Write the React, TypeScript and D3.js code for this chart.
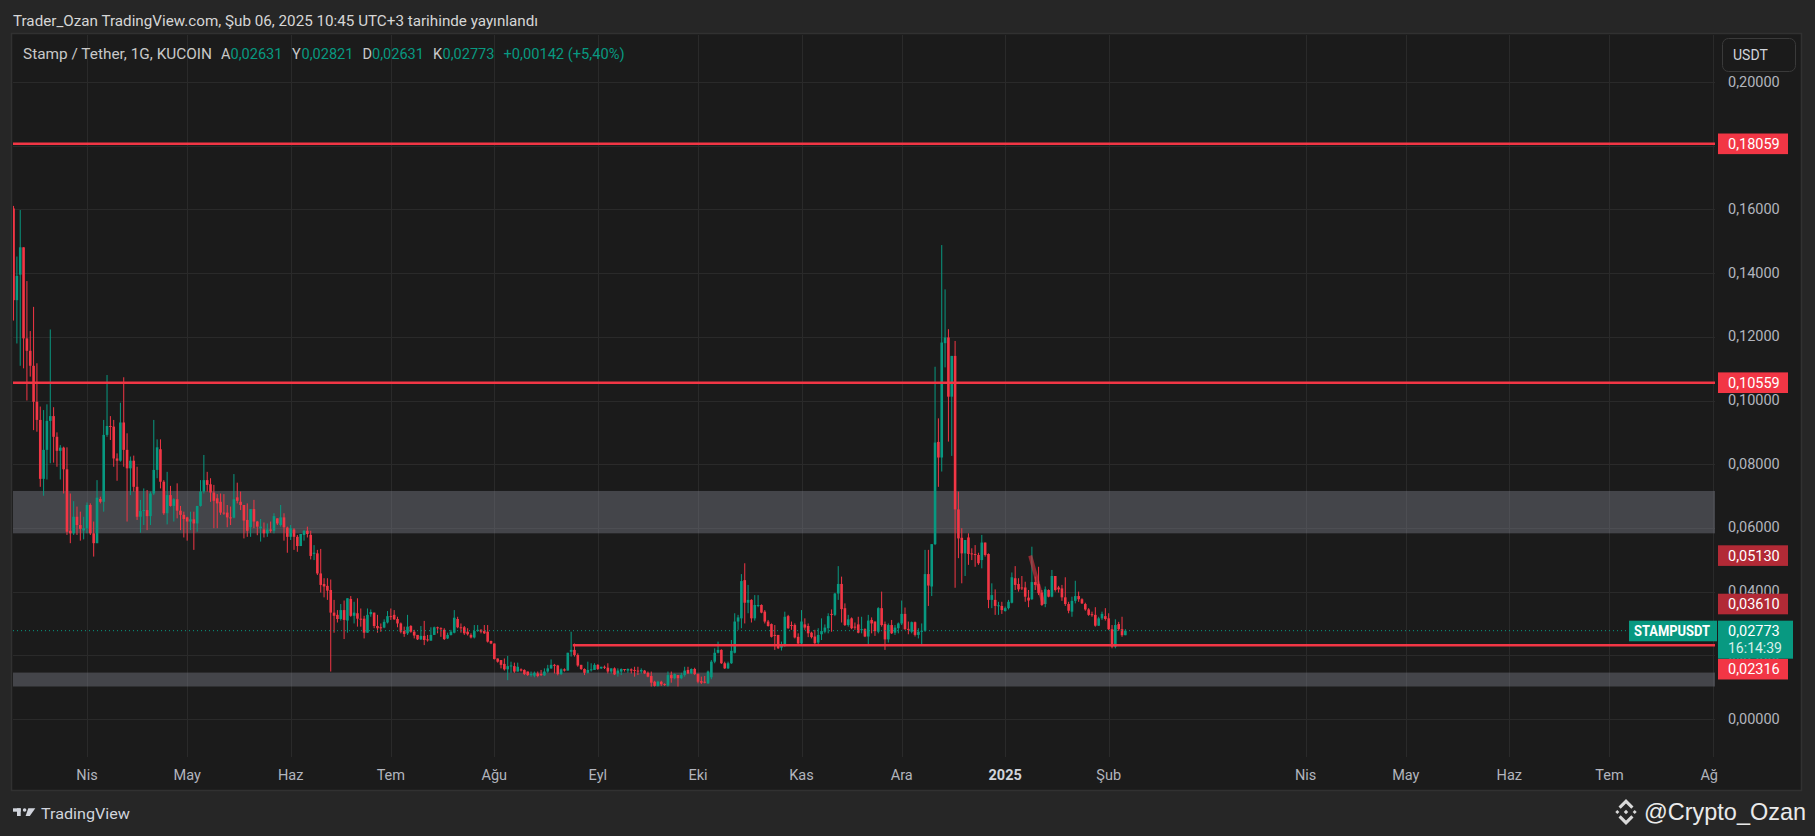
import * as d3 from 'd3';

// daily bars STAMP/USDT (KuCoin): [open, high, low, close], first bar 2024-03-10
const candles: [number, number, number, number][] = [
  [0.1603,0.1611,0.1251,0.1315],[0.1315,0.1452,0.1179,0.1391],[0.1395,0.1598,0.1109,0.1481],[0.1481,0.1481,0.1101,0.1195],
  [0.1195,0.1375,0.1000,0.1156],[0.1156,0.1218,0.1075,0.1109],[0.1109,0.1294,0.0907,0.0996],[0.0996,0.1117,0.0902,0.0939],
  [0.0939,0.0981,0.0729,0.0754],[0.0754,0.0970,0.0701,0.0845],[0.0845,0.0988,0.0752,0.0936],[0.0936,0.1223,0.0803,0.0951],
  [0.0951,0.0979,0.0805,0.0886],[0.0886,0.0900,0.0792,0.0842],[0.0842,0.0860,0.0752,0.0852],[0.0852,0.0855,0.0708,0.0784],
  [0.0784,0.0853,0.0578,0.0588],[0.0591,0.0708,0.0552,0.0583],[0.0583,0.0684,0.0578,0.0635],[0.0635,0.0667,0.0578,0.0609],
  [0.0609,0.0651,0.0560,0.0597],[0.0592,0.0635,0.0564,0.0599],[0.0599,0.0680,0.0583,0.0672],[0.0672,0.0677,0.0578,0.0583],
  [0.0583,0.0620,0.0510,0.0552],[0.0552,0.0750,0.0552,0.0695],[0.0691,0.0698,0.0677,0.0682],[0.0682,0.0939,0.0651,0.0892],
  [0.0892,0.1080,0.0886,0.0920],[0.0920,0.0951,0.0876,0.0918],[0.0918,0.0939,0.0792,0.0818],[0.0818,0.0834,0.0748,0.0811],
  [0.0811,0.0993,0.0808,0.0931],[0.0931,0.1073,0.0792,0.0845],[0.0845,0.0897,0.0620,0.0787],[0.0787,0.0824,0.0703,0.0811],
  [0.0811,0.0827,0.0714,0.0729],[0.0729,0.0792,0.0625,0.0635],[0.0635,0.0688,0.0585,0.0653],[0.0653,0.0724,0.0609,0.0656],
  [0.0656,0.0719,0.0593,0.0637],[0.0637,0.0714,0.0609,0.0708],[0.0708,0.0939,0.0703,0.0782],[0.0782,0.0878,0.0756,0.0853],
  [0.0847,0.0878,0.0724,0.0745],[0.0745,0.0750,0.0641,0.0646],[0.0646,0.0776,0.0611,0.0703],[0.0703,0.0732,0.0667,0.0669],
  [0.0669,0.0693,0.0620,0.0690],[0.0690,0.0740,0.0630,0.0654],[0.0654,0.0669,0.0593,0.0641],[0.0641,0.0651,0.0570,0.0628],
  [0.0633,0.0635,0.0560,0.0620],[0.0620,0.0651,0.0593,0.0627],[0.0627,0.0651,0.0531,0.0614],[0.0614,0.0669,0.0588,0.0669],
  [0.0669,0.0750,0.0667,0.0714],[0.0714,0.0829,0.0708,0.0750],[0.0750,0.0776,0.0714,0.0735],[0.0737,0.0756,0.0682,0.0711],
  [0.0711,0.0735,0.0599,0.0685],[0.0693,0.0706,0.0599,0.0677],[0.0682,0.0708,0.0641,0.0648],[0.0648,0.0706,0.0641,0.0646],
  [0.0648,0.0672,0.0602,0.0633],[0.0633,0.0667,0.0609,0.0632],[0.0632,0.0769,0.0630,0.0690],[0.0696,0.0742,0.0677,0.0685],
  [0.0682,0.0714,0.0656,0.0672],[0.0672,0.0672,0.0567,0.0623],[0.0625,0.0677,0.0572,0.0591],[0.0602,0.0659,0.0572,0.0659],
  [0.0659,0.0688,0.0599,0.0620],[0.0620,0.0622,0.0577,0.0604],[0.0599,0.0628,0.0557,0.0604],[0.0595,0.0617,0.0570,0.0583],
  [0.0583,0.0614,0.0572,0.0595],[0.0595,0.0620,0.0585,0.0591],[0.0591,0.0646,0.0583,0.0637],[0.0630,0.0630,0.0609,0.0614],
  [0.0609,0.0672,0.0604,0.0633],[0.0633,0.0646,0.0560,0.0602],[0.0601,0.0604,0.0522,0.0572],[0.0572,0.0609,0.0562,0.0599],
  [0.0595,0.0599,0.0531,0.0572],[0.0572,0.0578,0.0525,0.0543],[0.0543,0.0581,0.0543,0.0581],[0.0578,0.0593,0.0560,0.0591],
  [0.0591,0.0604,0.0570,0.0581],[0.0578,0.0591,0.0501,0.0512],[0.0520,0.0546,0.0499,0.0522],[0.0520,0.0531,0.0452,0.0457],
  [0.0457,0.0534,0.0397,0.0421],[0.0424,0.0442,0.0382,0.0416],[0.0418,0.0442,0.0374,0.0403],[0.0405,0.0438,0.0149,0.0334],
  [0.0334,0.0374,0.0271,0.0324],[0.0327,0.0342,0.0303,0.0314],[0.0314,0.0361,0.0309,0.0342],[0.0342,0.0372,0.0251,0.0311],
  [0.0309,0.0379,0.0271,0.0379],[0.0377,0.0386,0.0321,0.0324],[0.0324,0.0368,0.0300,0.0334],[0.0332,0.0379,0.0290,0.0315],
  [0.0315,0.0347,0.0290,0.0313],[0.0315,0.0324,0.0253,0.0271],[0.0271,0.0347,0.0271,0.0327],[0.0329,0.0344,0.0321,0.0336],
  [0.0334,0.0334,0.0285,0.0292],[0.0292,0.0327,0.0271,0.0285],[0.0288,0.0300,0.0274,0.0286],[0.0287,0.0313,0.0285,0.0305],
  [0.0303,0.0339,0.0300,0.0323],[0.0323,0.0347,0.0311,0.0321],[0.0327,0.0342,0.0311,0.0313],[0.0314,0.0321,0.0288,0.0300],
  [0.0300,0.0303,0.0269,0.0274],[0.0276,0.0290,0.0258,0.0267],[0.0269,0.0327,0.0264,0.0290],[0.0292,0.0295,0.0271,0.0274],
  [0.0274,0.0280,0.0253,0.0262],[0.0264,0.0264,0.0248,0.0250],[0.0250,0.0292,0.0248,0.0261],[0.0261,0.0308,0.0232,0.0248],
  [0.0250,0.0264,0.0243,0.0247],[0.0246,0.0288,0.0246,0.0264],[0.0264,0.0290,0.0264,0.0288],[0.0288,0.0290,0.0269,0.0285],
  [0.0285,0.0288,0.0258,0.0283],[0.0280,0.0285,0.0248,0.0251],[0.0253,0.0271,0.0251,0.0264],[0.0264,0.0280,0.0262,0.0274],
  [0.0271,0.0342,0.0269,0.0318],[0.0314,0.0321,0.0285,0.0288],[0.0288,0.0300,0.0271,0.0287],[0.0288,0.0292,0.0264,0.0269],
  [0.0274,0.0285,0.0262,0.0266],[0.0264,0.0269,0.0253,0.0256],[0.0256,0.0295,0.0253,0.0276],[0.0276,0.0295,0.0274,0.0280],
  [0.0280,0.0282,0.0269,0.0274],[0.0276,0.0295,0.0267,0.0269],[0.0274,0.0295,0.0240,0.0243],[0.0245,0.0246,0.0235,0.0237],
  [0.0237,0.0237,0.0187,0.0188],[0.0190,0.0190,0.0177,0.0180],[0.0185,0.0185,0.0159,0.0170],[0.0173,0.0190,0.0152,0.0156],
  [0.0156,0.0198,0.0122,0.0166],[0.0166,0.0180,0.0145,0.0168],[0.0166,0.0177,0.0145,0.0149],[0.0149,0.0177,0.0149,0.0164],
  [0.0156,0.0159,0.0149,0.0152],[0.0154,0.0156,0.0138,0.0141],[0.0149,0.0149,0.0135,0.0138],[0.0138,0.0149,0.0133,0.0141],
  [0.0136,0.0149,0.0131,0.0145],[0.0143,0.0149,0.0131,0.0135],[0.0141,0.0154,0.0135,0.0138],[0.0137,0.0159,0.0135,0.0149],
  [0.0149,0.0170,0.0145,0.0159],[0.0159,0.0187,0.0157,0.0170],[0.0170,0.0173,0.0143,0.0168],[0.0168,0.0170,0.0137,0.0141],
  [0.0141,0.0159,0.0138,0.0156],[0.0156,0.0159,0.0149,0.0152],[0.0152,0.0208,0.0152,0.0208],[0.0211,0.0274,0.0196,0.0217],
  [0.0217,0.0237,0.0196,0.0201],[0.0201,0.0206,0.0164,0.0168],[0.0170,0.0170,0.0154,0.0157],[0.0157,0.0159,0.0138,0.0145],
  [0.0145,0.0180,0.0143,0.0154],[0.0154,0.0175,0.0149,0.0156],[0.0154,0.0175,0.0154,0.0170],[0.0170,0.0172,0.0154,0.0157],
  [0.0159,0.0164,0.0157,0.0164],[0.0164,0.0168,0.0157,0.0162],[0.0161,0.0175,0.0143,0.0149],[0.0149,0.0159,0.0143,0.0159],
  [0.0159,0.0162,0.0138,0.0140],[0.0143,0.0159,0.0133,0.0152],[0.0149,0.0159,0.0138,0.0157],[0.0157,0.0157,0.0149,0.0154],
  [0.0152,0.0159,0.0145,0.0157],[0.0156,0.0159,0.0143,0.0152],[0.0154,0.0164,0.0133,0.0151],[0.0152,0.0164,0.0138,0.0149],
  [0.0149,0.0159,0.0143,0.0154],[0.0152,0.0154,0.0141,0.0143],[0.0145,0.0149,0.0131,0.0133],[0.0135,0.0149,0.0102,0.0114],
  [0.0117,0.0120,0.0102,0.0104],[0.0104,0.0120,0.0102,0.0117],[0.0117,0.0120,0.0104,0.0109],[0.0110,0.0112,0.0104,0.0107],
  [0.0105,0.0149,0.0102,0.0138],[0.0138,0.0149,0.0114,0.0128],[0.0128,0.0143,0.0125,0.0141],[0.0138,0.0138,0.0102,0.0128],
  [0.0128,0.0145,0.0125,0.0138],[0.0138,0.0164,0.0133,0.0152],[0.0154,0.0164,0.0141,0.0143],[0.0143,0.0159,0.0141,0.0157],
  [0.0157,0.0161,0.0138,0.0141],[0.0141,0.0143,0.0112,0.0117],[0.0119,0.0133,0.0110,0.0114],[0.0117,0.0135,0.0112,0.0114],
  [0.0112,0.0152,0.0110,0.0149],[0.0131,0.0185,0.0125,0.0180],[0.0180,0.0222,0.0175,0.0208],[0.0208,0.0243,0.0206,0.0217],
  [0.0217,0.0219,0.0173,0.0175],[0.0175,0.0180,0.0157,0.0159],[0.0159,0.0180,0.0157,0.0175],[0.0175,0.0248,0.0173,0.0214],
  [0.0208,0.0332,0.0206,0.0306],[0.0306,0.0327,0.0280,0.0319],[0.0316,0.0455,0.0285,0.0433],[0.0436,0.0489,0.0300,0.0365],
  [0.0365,0.0421,0.0332,0.0374],[0.0374,0.0376,0.0303,0.0316],[0.0316,0.0389,0.0309,0.0358],[0.0355,0.0389,0.0351,0.0358],
  [0.0358,0.0360,0.0332,0.0334],[0.0337,0.0342,0.0300,0.0306],[0.0306,0.0311,0.0290,0.0292],[0.0298,0.0300,0.0256,0.0258],
  [0.0264,0.0295,0.0217,0.0262],[0.0264,0.0264,0.0220,0.0222],[0.0224,0.0243,0.0215,0.0232],[0.0229,0.0337,0.0227,0.0321],
  [0.0323,0.0327,0.0283,0.0285],[0.0295,0.0306,0.0280,0.0292],[0.0295,0.0300,0.0253,0.0256],[0.0258,0.0269,0.0235,0.0237],
  [0.0237,0.0342,0.0235,0.0306],[0.0297,0.0316,0.0280,0.0287],[0.0292,0.0300,0.0257,0.0269],[0.0271,0.0274,0.0253,0.0257],
  [0.0259,0.0280,0.0232,0.0238],[0.0240,0.0285,0.0232,0.0264],[0.0266,0.0316,0.0248,0.0276],[0.0274,0.0297,0.0269,0.0287],
  [0.0285,0.0332,0.0269,0.0323],[0.0330,0.0344,0.0274,0.0327],[0.0327,0.0396,0.0323,0.0394],[0.0394,0.0480,0.0374,0.0424],
  [0.0424,0.0447,0.0303,0.0345],[0.0348,0.0363,0.0292,0.0295],[0.0295,0.0327,0.0290,0.0313],[0.0316,0.0319,0.0282,0.0285],
  [0.0290,0.0303,0.0280,0.0288],[0.0297,0.0321,0.0269,0.0271],[0.0280,0.0321,0.0269,0.0282],[0.0282,0.0285,0.0257,0.0259],
  [0.0259,0.0327,0.0232,0.0309],[0.0311,0.0319,0.0269,0.0300],[0.0306,0.0306,0.0261,0.0276],[0.0274,0.0351,0.0269,0.0348],
  [0.0348,0.0400,0.0290,0.0295],[0.0298,0.0306,0.0217,0.0250],[0.0250,0.0300,0.0240,0.0295],[0.0295,0.0311,0.0267,0.0269],
  [0.0271,0.0295,0.0264,0.0287],[0.0285,0.0303,0.0269,0.0300],[0.0300,0.0372,0.0295,0.0330],[0.0330,0.0350,0.0280,0.0282],
  [0.0283,0.0306,0.0266,0.0280],[0.0274,0.0306,0.0269,0.0304],[0.0304,0.0306,0.0259,0.0264],[0.0264,0.0285,0.0253,0.0274],
  [0.0274,0.0300,0.0232,0.0277],[0.0277,0.0531,0.0274,0.0455],[0.0455,0.0531,0.0355,0.0419],[0.0416,0.0549,0.0386,0.0549],
  [0.0549,0.1106,0.0546,0.0868],[0.0870,0.0944,0.0729,0.0821],[0.0821,0.1488,0.0777,0.1182],[0.1180,0.1349,0.1104,0.1198],
  [0.1198,0.1224,0.0871,0.1012],[0.1012,0.1140,0.0826,0.1140],[0.1140,0.1187,0.0412,0.0658],[0.0658,0.0714,0.0505,0.0567],
  [0.0569,0.0599,0.0426,0.0520],[0.0520,0.0562,0.0449,0.0562],[0.0570,0.0583,0.0484,0.0518],[0.0520,0.0536,0.0499,0.0517],
  [0.0518,0.0546,0.0478,0.0515],[0.0515,0.0522,0.0484,0.0489],[0.0499,0.0578,0.0473,0.0554],[0.0554,0.0554,0.0510,0.0515],
  [0.0518,0.0520,0.0348,0.0374],[0.0374,0.0426,0.0348,0.0389],[0.0374,0.0407,0.0327,0.0355],[0.0355,0.0368,0.0327,0.0357],
  [0.0355,0.0368,0.0330,0.0342],[0.0339,0.0353,0.0337,0.0348],[0.0348,0.0374,0.0344,0.0368],[0.0365,0.0460,0.0363,0.0445],
  [0.0442,0.0480,0.0405,0.0421],[0.0424,0.0442,0.0400,0.0407],[0.0413,0.0449,0.0405,0.0410],[0.0413,0.0431,0.0368,0.0384],
  [0.0381,0.0405,0.0351,0.0372],[0.0376,0.0541,0.0374,0.0430],[0.0430,0.0447,0.0405,0.0421],[0.0424,0.0478,0.0389,0.0395],
  [0.0397,0.0405,0.0355,0.0358],[0.0361,0.0416,0.0351,0.0407],[0.0405,0.0407,0.0382,0.0384],[0.0384,0.0468,0.0382,0.0449],
  [0.0449,0.0449,0.0400,0.0405],[0.0413,0.0418,0.0397,0.0407],[0.0410,0.0421,0.0371,0.0382],[0.0382,0.0445,0.0355,0.0361],
  [0.0361,0.0368,0.0332,0.0340],[0.0337,0.0384,0.0321,0.0371],[0.0371,0.0434,0.0363,0.0386],[0.0386,0.0400,0.0368,0.0376],
  [0.0376,0.0379,0.0361,0.0363],[0.0361,0.0365,0.0340,0.0344],[0.0344,0.0348,0.0324,0.0327],[0.0329,0.0337,0.0321,0.0327],
  [0.0327,0.0351,0.0290,0.0293],[0.0293,0.0321,0.0292,0.0316],[0.0316,0.0337,0.0311,0.0330],[0.0323,0.0348,0.0309,0.0314],
  [0.0316,0.0332,0.0279,0.0282],[0.0282,0.0295,0.0222,0.0227],[0.0227,0.0313,0.0222,0.0295],[0.0298,0.0305,0.0277,0.0282],
  [0.0282,0.0321,0.0258,0.0263],[0.02631,0.02821,0.02631,0.02773],
];
const firstDay = Date.UTC(2024, 2, 10);

const priceTicks = [0, 0.02, 0.04, 0.06, 0.08, 0.1, 0.12, 0.14, 0.16, 0.18, 0.2];
const monthDates = ['2024-04-01', '2024-05-01', '2024-06-01', '2024-07-01', '2024-08-01', '2024-09-01', '2024-10-01',
  '2024-11-01', '2024-12-01', '2025-01-01', '2025-02-01', '2025-04-01', '2025-05-01', '2025-06-01', '2025-07-01', '2025-08-01'];
const monthLabels = ['Nis', 'May', 'Haz', 'Tem', 'Ağu', 'Eyl', 'Eki', 'Kas', 'Ara', '2025', 'Şub', 'Nis', 'May', 'Haz', 'Tem', 'Ağ'];

// horizontal levels drawn by the author (null start = whole chart)
const levelPrices = [0.18059, 0.10559, 0.02316];
const levelStarts: (string | null)[] = [null, null, '2024-08-24T12:00:00Z'];
// gray supply / demand zones
const zoneTops = [0.0716, 0.01457];
const zoneBottoms = [0.0583, 0.0102];
// falling trendline
const trendDates = ['2025-01-08T12:00:00Z', '2025-01-12T12:00:00Z'];
const trendPrices = [0.0513, 0.0361];

const UP = '#089981';
const DOWN = '#f23645';
const W = 1815;
const H = 836;
const pane = { left: 13, top: 35, right: 1715, bottom: 757 };
const FONT = 'Roboto, "Noto Sans", sans-serif';

const fmt = (v: number) => d3.format('.5f')(v).replace('.', ',');

export default function App() {
  const x = d3.scaleUtc()
    .domain([new Date('2024-04-01T00:00:00Z'), new Date('2025-08-01T00:00:00Z')])
    .range([87, 1713]);
  const y = d3.scaleLinear().domain([0, 0.2]).range([719, 82]);

  const bars = candles.map(([o, h, l, c], i) => ({ o, h, l, c, t: new Date(firstDay + i * 864e5) }));
  const last = bars[bars.length - 1];
  const change = last.c - last.o;
  const pct = (change / last.o) * 100;

  const bodyW = 2.6;
  const axisX = 1728;

  const trendLine = d3.line<number>()
    .x((_, i) => x(new Date(trendDates[i])))
    .y(d => y(d));

  // current price tag
  const curY = y(last.c);
  const curTop = curY - 10;
  const curBottom = curTop + 38;

  const levelLabelY = levelPrices.map(p => {
    const ly = y(p);
    return Math.abs(ly - curY) < 28 ? Math.max(ly, curBottom + 10.5) : ly;
  });

  return (
    <svg width={W} height={H} style={{ position: 'absolute', left: 0, top: 0 }} fontFamily={FONT}>
      <rect width={W} height={H} fill="#262626" />
      <text x={13} y={26} fontSize={14.5} fill="#d6d6d6" textLength={525} lengthAdjust="spacingAndGlyphs">
        Trader_Ozan TradingView.com, Şub 06, 2025 10:45 UTC+3 tarihinde yayınlandı
      </text>

      {/* chart frame */}
      <rect x={11.5} y={33.5} width={1790} height={757} fill="#1b1b1b" stroke="#313131" strokeWidth={1.5} />

      <defs>
        <clipPath id="pane">
          <rect x={pane.left} y={pane.top} width={pane.right - pane.left} height={pane.bottom - pane.top} />
        </clipPath>
      </defs>

      {/* grid */}
      <g stroke="#2a2a2a" strokeWidth={1}>
        {priceTicks.map(t => (
          <line key={t} x1={pane.left} x2={pane.right} y1={Math.round(y(t)) + 0.5} y2={Math.round(y(t)) + 0.5} />
        ))}
        {monthDates.map(d => {
          const gx = Math.round(x(new Date(d + 'T00:00:00Z'))) + 0.5;
          return <line key={d} x1={gx} x2={gx} y1={pane.top} y2={pane.bottom} />;
        })}
      </g>

      <g clipPath="url(#pane)">
        {zoneTops.map((t, i) => (
          <rect key={i} x={pane.left} width={pane.right - pane.left} y={y(t)} height={y(zoneBottoms[i]) - y(t)}
            fill="rgba(120,123,134,0.45)" />
        ))}

        {/* candles */}
        {bars.map((b, i) => {
          const cx = x(b.t);
          const col = b.c >= b.o ? UP : DOWN;
          const top = y(Math.max(b.o, b.c));
          const bh = Math.max(1, y(Math.min(b.o, b.c)) - top);
          return (
            <g key={i} fill={col}>
              <rect x={cx - 0.5} width={1} y={y(b.h)} height={Math.max(1, y(b.l) - y(b.h))} />
              <rect x={cx - bodyW / 2} width={bodyW} y={top} height={bh} />
            </g>
          );
        })}

        {/* current price dotted line */}
        <line x1={pane.left} x2={1629} y1={curY} y2={curY} stroke={UP} strokeWidth={1} strokeDasharray="1 3" />

        {/* levels */}
        {levelPrices.map((p, i) => {
          const s = levelStarts[i];
          const x1 = s ? x(new Date(s)) : pane.left;
          return <line key={p} x1={x1} x2={pane.right + 2} y1={y(p)} y2={y(p)} stroke={DOWN} strokeWidth={2.6} />;
        })}

        <path d={trendLine(trendPrices) ?? ''} stroke={DOWN} strokeOpacity={0.55} strokeWidth={4} fill="none" />
      </g>

      {/* price axis */}
      <g fontSize={14.5} fill="#b2b5be">
        {priceTicks.map(t => (
          <text key={t} x={axisX} y={y(t)} dominantBaseline="central">{fmt(t)}</text>
        ))}
      </g>

      {/* trendline end labels */}
      {trendPrices.map(p => (
        <g key={p}>
          <rect x={1718} y={y(p) - 10.3} width={70} height={20.6} fill="#b22a36" />
          <text x={axisX} y={y(p) + 0.5} dominantBaseline="central" fontSize={14.5} fill="#fff">{fmt(p)}</text>
        </g>
      ))}

      {/* level labels */}
      {levelPrices.map((p, i) => (
        <g key={p}>
          <rect x={1718} y={levelLabelY[i] - 10.3} width={70} height={20.6} fill={DOWN} />
          <text x={axisX} y={levelLabelY[i] + 0.5} dominantBaseline="central" fontSize={14.5} fill="#fff">{fmt(p)}</text>
        </g>
      ))}

      {/* current price tag */}
      <rect x={1718} y={curTop} width={75} height={38} fill={UP} />
      <text x={axisX} y={curY + 0.5} dominantBaseline="central" fontSize={14.5} fill="#fff">{fmt(last.c)}</text>
      <text x={axisX} y={curY + 17} dominantBaseline="central" fontSize={14} fill="#d8efe9">16:14:39</text>
      <rect x={1629} y={curTop} width={88} height={20.6} fill={UP} />
      <text x={1634} y={curY + 0.5} dominantBaseline="central" fontSize={14} fontWeight="bold" fill="#fff"
        textLength={76} lengthAdjust="spacingAndGlyphs">STAMPUSDT</text>

      {/* currency button */}
      <rect x={1722.5} y={38.5} width={73} height={33} rx={6} fill="#1b1b1b" stroke="#3a3a3a" />
      <text x={1733} y={55} dominantBaseline="central" fontSize={14} fill="#d1d4dc">USDT</text>

      {/* time axis */}
      <g fontSize={14.5} fill="#b2b5be" textAnchor="middle">
        {monthDates.map((d, i) => {
          const lx = x(new Date(d + 'T00:00:00Z'));
          const isYear = monthLabels[i] === '2025';
          const isLast = i === monthDates.length - 1;
          return (
            <text key={d} x={isLast ? lx + 5 : lx} y={775} dominantBaseline="central"
              textAnchor={isLast ? 'end' : 'middle'} fontWeight={isYear ? 'bold' : 'normal'}
              fill={isYear ? '#d1d4dc' : '#b2b5be'}>
              {monthLabels[i]}
            </text>
          );
        })}
      </g>

      {/* legend */}
      <g fontSize={14.5} dominantBaseline="central">
        <text x={23} y={54} fill="#c8c8c8" textLength={189} lengthAdjust="spacingAndGlyphs">Stamp / Tether, 1G, KUCOIN</text>
        {[['A', last.o, 221], ['Y', last.h, 292], ['D', last.l, 362.5], ['K', last.c, 433]].map(([k, v, lx]) => (
          <g key={k as string}>
            <text x={lx as number} y={54} fill="#c8c8c8">{k as string}</text>
            <text x={(lx as number) + 9.5} y={54} fill={UP} textLength={52} lengthAdjust="spacingAndGlyphs">{fmt(v as number)}</text>
          </g>
        ))}
        <text x={503.5} y={54} fill={UP} textLength={121} lengthAdjust="spacingAndGlyphs">
          {`+${fmt(change)} (+${d3.format('.2f')(pct).replace('.', ',')}%)`}
        </text>
      </g>

      {/* footer: TradingView mark */}
      <g fill="#d1d4dc">
        <rect x={13} y={808.3} width={7.7} height={3.4} />
        <rect x={17} y={808.3} width={3.7} height={7.7} />
        <circle cx={24.6} cy={810} r={1.8} />
        <path d="M28.3 808.3 L35.3 808.3 L29.8 816 L25.6 816 Z" />
        <text x={41} y={814} dominantBaseline="central" fontSize={15} textLength={89} lengthAdjust="spacingAndGlyphs">TradingView</text>
      </g>
      {/* footer: exchange mark + author */}
      <g fill="#d9d9d9">
        <path d="M1626 799 L1633.5 806.5 L1631.3 808.7 L1626 803.4 L1620.7 808.7 L1618.5 806.5 Z" />
        <path d="M1626 825 L1633.5 817.5 L1631.3 815.3 L1626 820.6 L1620.7 815.3 L1618.5 817.5 Z" />
        <path d="M1626 809.8 L1628.2 812 L1626 814.2 L1623.8 812 Z" />
        <path d="M1617.3 810 L1619.3 812 L1617.3 814 L1615.3 812 Z" />
        <path d="M1634.7 810 L1636.7 812 L1634.7 814 L1632.7 812 Z" />
      </g>
      <text x={1644} y={820} fontSize={23.7} fill="#eaeaea" fontFamily='"Liberation Sans", Arial, sans-serif'
        textLength={162} lengthAdjust="spacingAndGlyphs">@Crypto_Ozan</text>
    </svg>
  );
}
